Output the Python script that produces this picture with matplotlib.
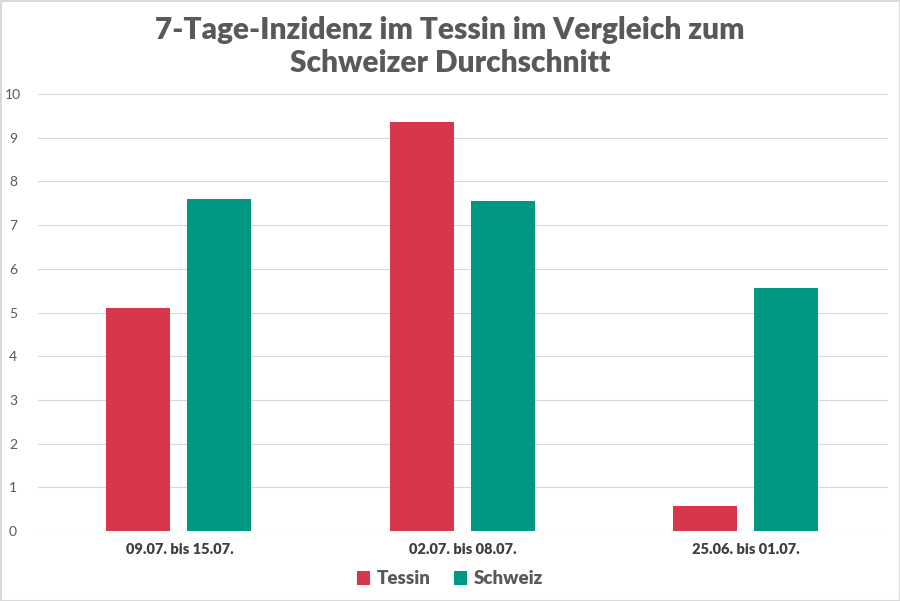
import matplotlib
matplotlib.use("Agg")
import matplotlib.pyplot as plt
import numpy as np
from matplotlib.patches import Rectangle

categories = ["09.07. bis 15.07.", "02.07. bis 08.07.", "25.06. bis 01.07."]
tessin = [5.1, 9.35, 0.57]
schweiz = [7.6, 7.55, 5.57]
series_names = ["Tessin", "Schweiz"]
yticks = [0, 1, 2, 3, 4, 5, 6, 7, 8, 9, 10]

RED = "#D7374A"
TEAL = "#009882"
plt.rcParams['font.family'] = ['Lato', 'DejaVu Sans']

fig = plt.figure(figsize=(9, 6.01), dpi=100)
ax = fig.add_axes([38/900, (601-531)/601, 850/900, (531-94)/601])

x = np.arange(len(categories))
w = 0.226
ax.bar(x - 0.146, tessin, w, color=RED, label=series_names[0], zorder=3)
ax.bar(x + 0.140, schweiz, w, color=TEAL, label=series_names[1], zorder=3)

ax.set_xlim(-0.5, 2.5)
ax.set_ylim(0, 10)
ax.set_yticks(yticks)
ax.set_yticklabels([str(v) for v in yticks], color="#595959", fontsize=10)
ax.set_xticks(x)
ax.set_xticklabels(categories, fontsize=10.5, fontweight="heavy", color="#404040")
ax.tick_params(axis="both", length=0)
ax.tick_params(axis="y", pad=18)
ax.tick_params(axis="x", pad=9)
ax.grid(axis="y", color="#D9D9D9", linewidth=0.8, zorder=0)
for s in ax.spines.values():
    s.set_visible(False)
for lab in ax.get_yticklabels():
    lab.set_horizontalalignment("center")

fig.text(0.5, 0.974, "7-Tage-Inzidenz im Tessin im Vergleich zum\nSchweizer Durchschnitt",
         ha="center", va="top", fontsize=21.5, fontweight="heavy", color="#595959",
         linespacing=1.22)

leg = fig.legend(loc="center", bbox_to_anchor=(0.5, (601-579)/601), ncol=2, frameon=False,
                 prop={"size": 13.5, "weight": "heavy"}, handlelength=0.7, handleheight=0.7,
                 handletextpad=0.4, columnspacing=1.2)
for t in leg.get_texts():
    t.set_color("#595959")

fig.patches.append(Rectangle((0.5/900, 0.5/601), 1 - 1/900, 1 - 1/601, transform=fig.transFigure,
                             fill=False, edgecolor="#D9D9D9", linewidth=1.5))

fig.savefig("out.png", dpi=100)
